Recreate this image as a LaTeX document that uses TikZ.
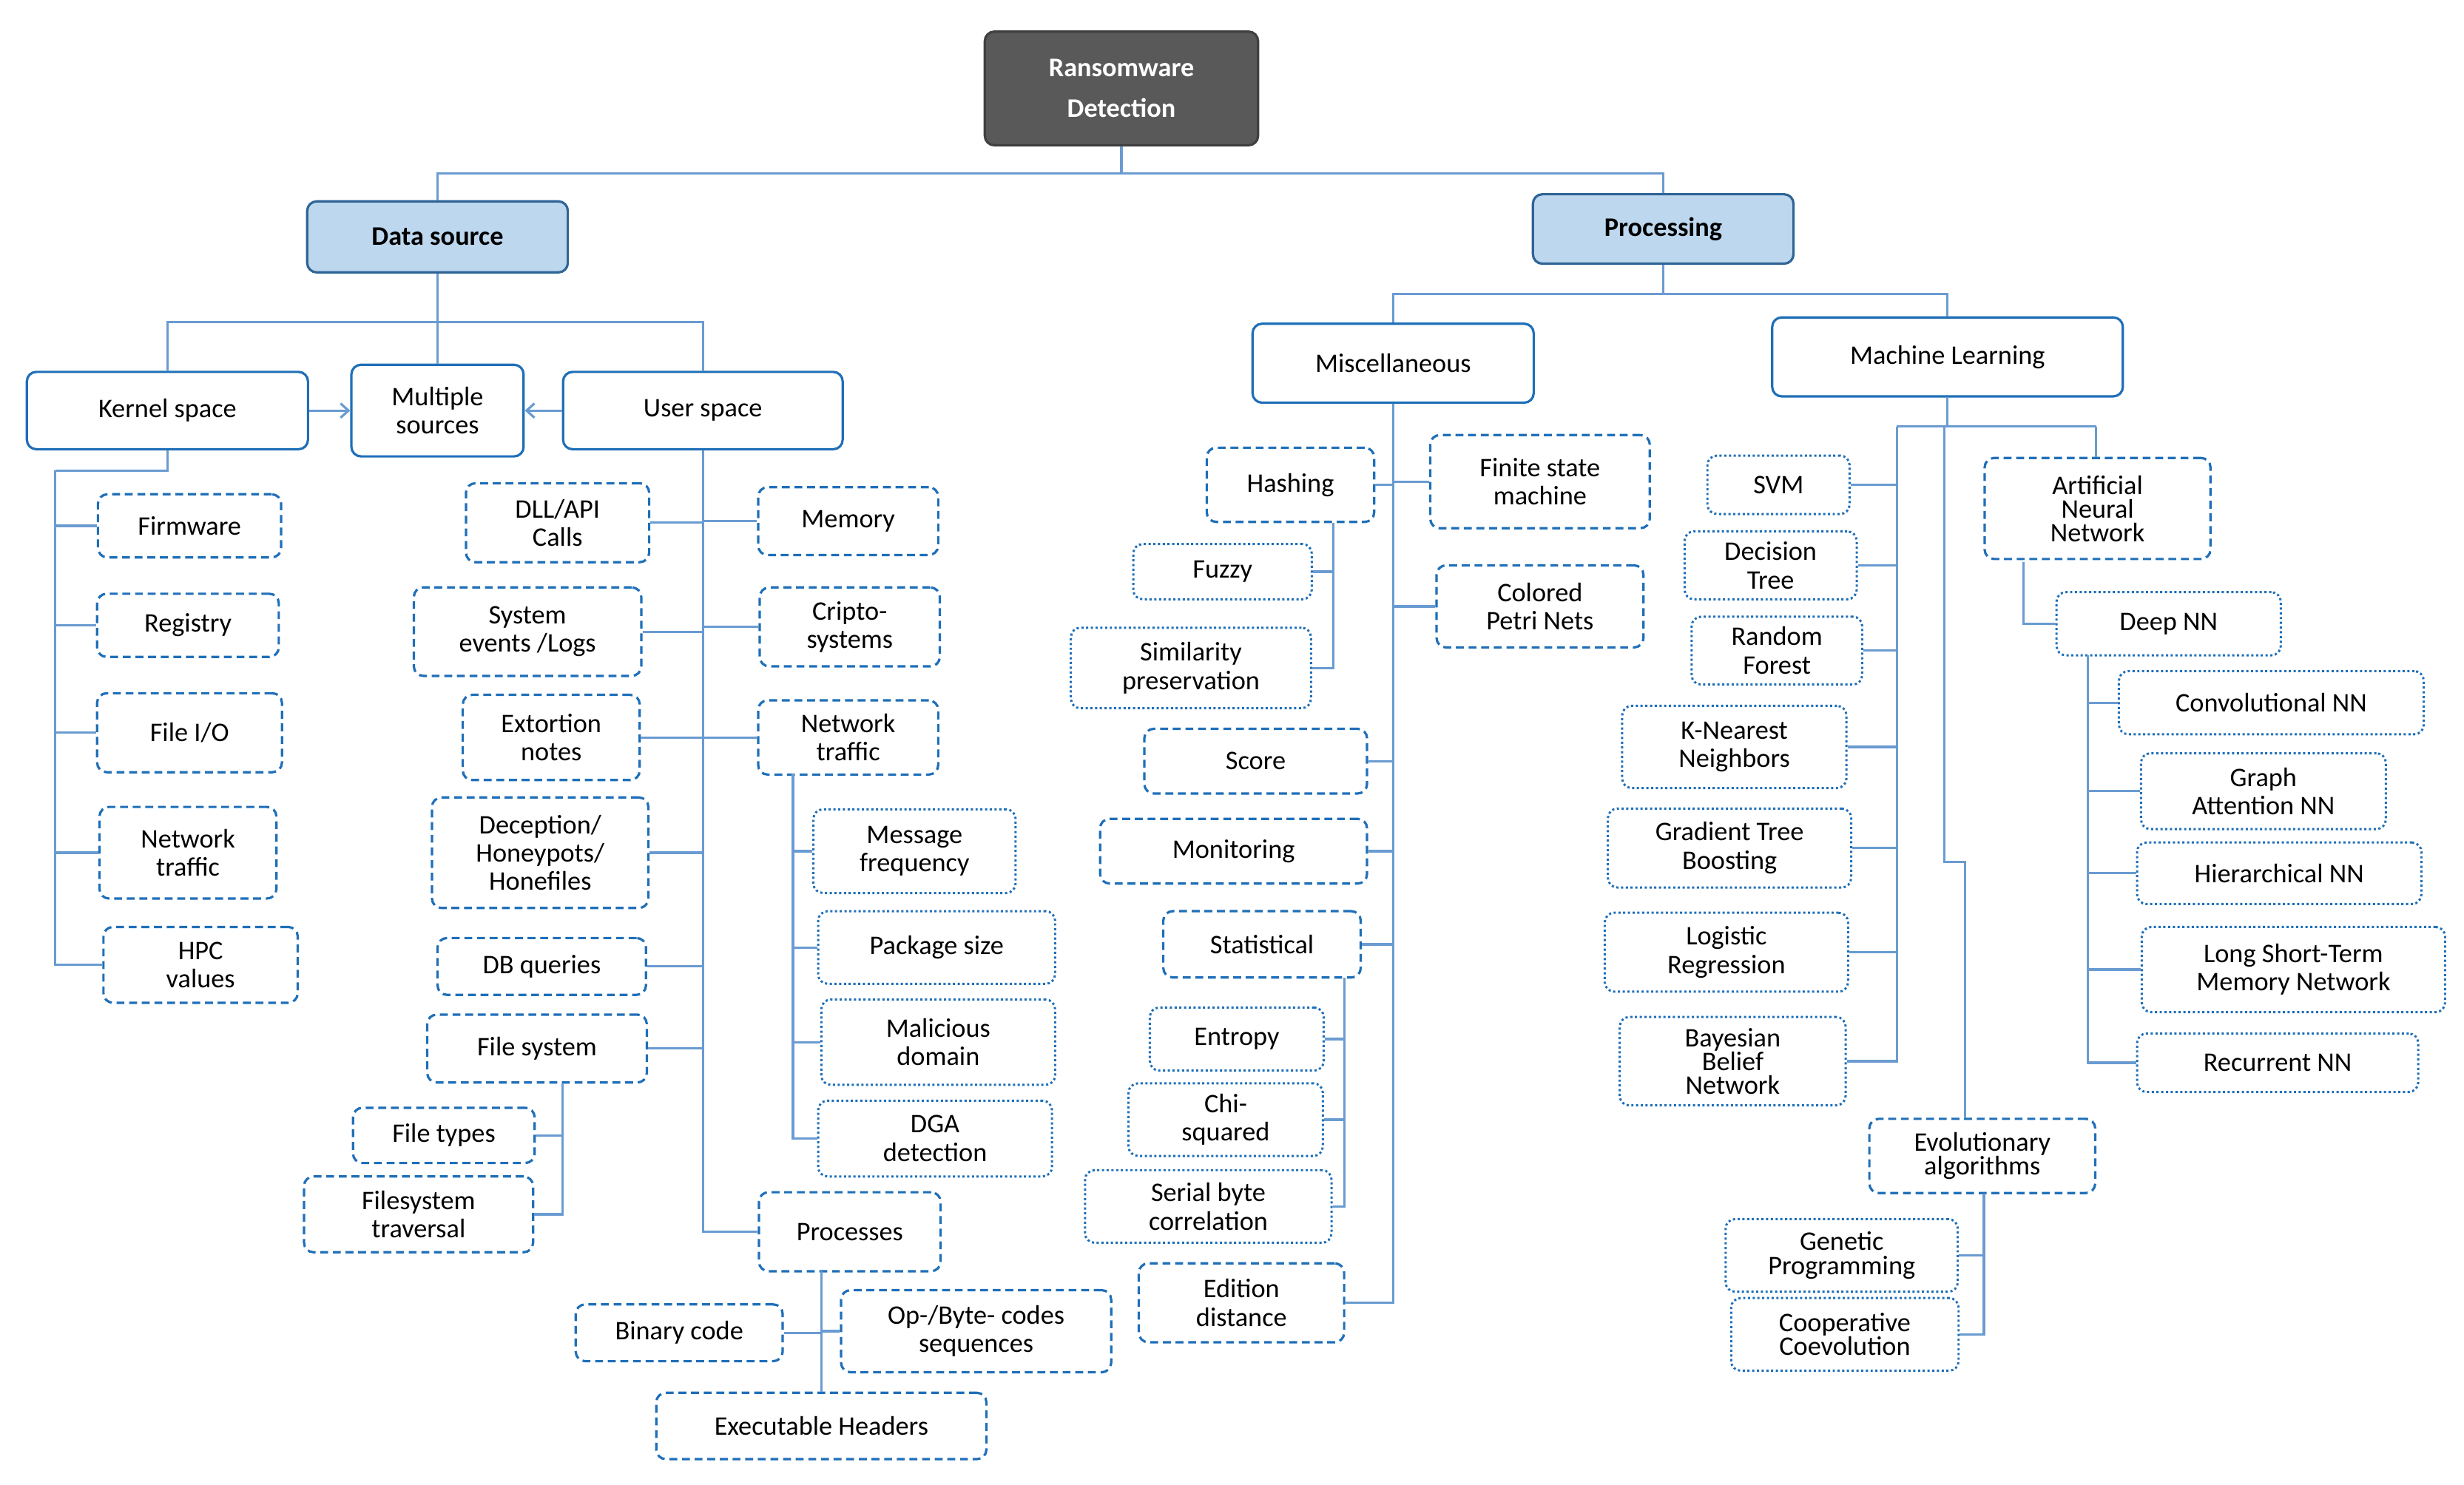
\documentclass[tikz,border=0pt]{standalone}
\usepackage{fontspec}
\setmainfont{Carlito}
\usetikzlibrary{arrows.meta}
\definecolor{ln}{HTML}{6A9BD1}
\definecolor{bd}{HTML}{1F6FB8}
\definecolor{dk}{HTML}{2F6496}
\definecolor{lb}{HTML}{BDD7EE}
\begin{document}
\begin{tikzpicture}[x=1pt,y=-1pt,
  base/.style={rounded corners=6pt,align=center,inner sep=1pt,font=\fontsize{17}{18}\selectfont},
  btop/.style={base,draw=dk,line width=1.5pt,fill=lb,font=\fontsize{17}{19}\selectfont\bfseries},
  bsolid/.style={base,draw=bd,line width=1.5pt},
  bdash/.style={base,draw=bd,line width=1.5pt,dash pattern=on 5pt off 3pt},
  bdot/.style={base,draw=bd,line width=1.4pt,dash pattern=on 1.4pt off 1.6pt},
  cn/.style={draw=ln,line width=1.5pt}]
\useasboundingbox (0,0) rectangle (1560,940);
\newcommand\bx[7]{\node[#6,minimum width=#4pt,minimum height=#5pt] (#1) at (#2,#3) {#7};}
% top
\node[base,draw=black!75,fill=black!65,text=white,line width=1.5pt,minimum width=173pt,minimum height=72pt,font=\fontsize{17}{26}\selectfont\bfseries] (root) at (710,56) {Ransomware\\Detection};
\bx{ds}{277}{150}{165}{45}{btop}{Data source}
\bx{pc}{1053}{145}{165}{44}{btop}{Processing}
\bx{ks}{106}{260}{178}{49}{bsolid}{Kernel space}
\bx{mu}{277}{260}{109}{58}{bsolid}{Multiple\\sources}
\bx{us}{445}{260}{177}{49}{bsolid}{User space}
\bx{ms}{882}{230}{178}{50}{bsolid}{Miscellaneous}
\bx{ml}{1233}{226}{222}{50}{bsolid}{Machine Learning}
% kernel
\bx{k1}{120}{333}{116}{40}{bdash}{Firmware}
\bx{k2}{119}{396}{115}{40}{bdash}{Registry}
\bx{k3}{120}{464}{117}{50}{bdash}{File I/O}
\bx{k4}{119}{540}{112}{58}{bdash}{Network\\traffic}
\bx{k5}{127}{611}{123}{48}{bdash}{HPC\\values}
% user left
\bx{u1}{353}{331}{116}{50}{bdash}{DLL/API\\Calls}
\bx{u2}{334}{400}{144}{56}{bdash}{System\\events /Logs}
\bx{u3}{349}{467}{112}{54}{bdash}{Extortion\\notes}
\bx{u4}{342}{540}{137}{70}{bdash}{Deception/\\Honeypots/\\Honefiles}
\bx{u5}{343}{612}{132}{36}{bdash}{DB queries}
\bx{u6}{340}{664}{139}{43}{bdash}{File system}
% user right
\bx{u7}{537}{330}{114}{43}{bdash}{Memory}
\bx{u8}{538}{397}{114}{50}{bdash}{Cripto-\\systems}
\bx{u9}{537}{467}{114}{47}{bdash}{Network\\traffic}
\bx{u10}{538}{780}{115}{50}{bdash}{Processes}
% network traffic children
\bx{n1}{579}{539}{128}{53}{bdot}{Message\\frequency}
\bx{n2}{593}{600}{150}{46}{bdot}{Package size}
\bx{n3}{594}{660}{148}{54}{bdot}{Malicious\\domain}
\bx{n4}{592}{721}{148}{48}{bdot}{DGA\\detection}
% file system children
\bx{f1}{281}{719}{115}{35}{bdash}{File types}
\bx{f2}{265}{769}{145}{48}{bdash}{Filesystem\\traversal}
% processes children
\bx{p1}{430}{844}{131}{36}{bdash}{Binary code}
\bx{p2}{618}{843}{171}{52}{bdash}{Op-/Byte- codes\\sequences}
\bx{p3}{520}{903}{209}{42}{bdash}{Executable Headers}
% misc
\bx{m1}{817}{307}{106}{47}{bdash}{Hashing}
\bx{m2}{975}{305}{139}{59}{bdash}{Finite state\\machine}
\bx{m3}{975}{384}{131}{52}{bdash}{Colored\\Petri Nets}
\bx{m4}{795}{482}{141}{41}{bdash}{Score}
\bx{m5}{781}{539}{169}{41}{bdash}{Monitoring}
\bx{m6}{799}{598}{125}{42}{bdash}{Statistical}
\bx{m7}{786}{825}{130}{50}{bdash}{Edition\\distance}
\bx{h1}{774}{362}{113}{35}{bdot}{Fuzzy}
\bx{h2}{754}{423}{152}{51}{bdot}{Similarity\\preservation}
\bx{s1}{783}{658}{110}{40}{bdot}{Entropy}
\bx{s2}{776}{709}{123}{46}{bdot}{Chi-\\squared}
\bx{s3}{765}{764}{156}{46}{bdot}{Serial byte\\correlation}
% ML
\bx{l1}{1126}{307}{90}{37}{bdot}{SVM}
\bx{l2}{1121}{358}{109}{43}{bdot}{Decision\\Tree}
\bx{l3}{1125}{412}{108}{43}{bdot}{Random\\Forest}
\bx{l4}{1098}{473}{142}{52}{bdot}{K-Nearest\\Neighbors}
\bx{l5}{1095}{537}{154}{50}{bdot}{Gradient Tree\\Boosting}
\bx{l6}{1093}{603}{154}{50}{bdot}{Logistic\\Regression}
\node[bdot,minimum width=143pt,minimum height=56pt,font=\fontsize{17}{15}\selectfont] (l7) at (1097,672) {Bayesian\\Belief\\Network};
\node[bdash,minimum width=143pt,minimum height=64pt,font=\fontsize{17}{15}\selectfont] (ann) at (1328,322) {Artificial\\Neural\\Network};
\bx{dn}{1373}{395}{142}{40}{bdot}{Deep NN}
\bx{d1}{1438}{445}{193}{40}{bdot}{Convolutional NN}
\bx{d2}{1433}{501}{155}{48}{bdot}{Graph\\Attention NN}
\bx{d3}{1443}{553}{180}{39}{bdot}{Hierarchical NN}
\bx{d4}{1452}{614}{192}{54}{bdot}{Long Short-Term\\Memory Network}
\bx{d5}{1442}{673}{178}{37}{bdot}{Recurrent NN}
\node[bdash,minimum width=143pt,minimum height=47pt,font=\fontsize{17}{15}\selectfont] (ev) at (1255,732) {Evolutionary\\algorithms};
\node[bdot,minimum width=147pt,minimum height=46pt,font=\fontsize{17}{15}\selectfont] (e1) at (1166,795) {Genetic\\Programming};
\node[bdot,minimum width=144pt,minimum height=46pt,font=\fontsize{17}{15}\selectfont] (e2) at (1168,845) {Cooperative\\Coevolution};
% coordinates
\coordinate (r1) at (710,110);
\coordinate (dj) at (277,204);
\coordinate (pj) at (1053,186);
\coordinate (kt) at (35,298);
\coordinate (ntt) at (502,490);
\coordinate (fst) at (356,686);
\coordinate (prt) at (520,805);
\coordinate (hst) at (844,331);
\coordinate (stt) at (851,619);
\coordinate (mlt) at (1233,270);
\coordinate (mlL) at (1201,270);
\coordinate (mlR) at (1327,270);
\coordinate (evj1) at (1231,546);
\coordinate (evj2) at (1244,546);
\coordinate (evst) at (1256,756);
\coordinate (annb) at (1281,356);
\coordinate (dnt) at (1322,415);
% connectors
\draw[cn] (root.south) -- (r1);
\draw[cn] (ds.north) |- (r1);
\draw[cn] (pc.north) |- (r1);
\draw[cn] (ds.south) -- (dj);
\draw[cn] (ks.north) |- (dj);
\draw[cn] (mu.north) -- (dj);
\draw[cn] (us.north) |- (dj);
\draw[cn,-{Straight Barb[length=5pt,width=9pt]}] (ks.east) -- (mu.west);
\draw[cn,-{Straight Barb[length=5pt,width=9pt]}] (us.west) -- (mu.east);
\draw[cn] (ks.south) |- (kt);
\foreach \c in {k1,k2,k3,k4,k5} \draw[cn] (\c.west) -| (kt);
\foreach \c in {u1,u2,u3,u4,u5,u6} \draw[cn] (\c.east) -| (us.south);
\foreach \c in {u7,u8,u9,u10} \draw[cn] (\c.west) -| (us.south);
\foreach \c in {n1,n2,n3,n4} \draw[cn] (\c.west) -| (ntt);
\foreach \c in {f1,f2} \draw[cn] (\c.east) -| (fst);
\draw[cn] (p1.east) -| (prt);
\draw[cn] (p2.west) -| (prt);
\draw[cn] (p3.north) -- (prt);
\draw[cn] (pc.south) -- (pj);
\draw[cn] (ms.north) |- (pj);
\draw[cn] (ml.north) |- (pj);
\foreach \c in {m1,m4,m5,m6,m7} \draw[cn] (\c.east) -| (ms.south);
\foreach \c in {m2,m3} \draw[cn] (\c.west) -| (ms.south);
\foreach \c in {h1,h2} \draw[cn] (\c.east) -| (hst);
\foreach \c in {s1,s2,s3} \draw[cn] (\c.east) -| (stt);
\draw[cn] (ml.south) -- (mlt);
\draw[cn] (mlL) -- (mlR);
\foreach \c in {l1,l2,l3,l4,l5,l6,l7} \draw[cn] (\c.east) -| (mlL);
\draw[cn] (mlR) -- (ann.north -| mlR);
\draw[cn] (evj1 |- mlt) -- (evj1) -- (evj2) -- (ev.north -| evj2);
\foreach \c in {e1,e2} \draw[cn] (\c.east) -| (evst);
\draw[cn] (annb) |- (dn.west);
\foreach \c in {d1,d2,d3,d4,d5} \draw[cn] (\c.west) -| (dnt);
\end{tikzpicture}
\end{document}
